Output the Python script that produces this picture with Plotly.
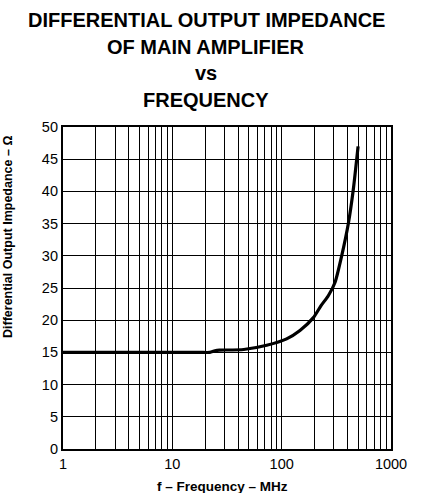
import plotly.graph_objects as go

# Differential output impedance of the main amplifier vs frequency
freq_mhz = [1, 5, 10, 18, 22, 25, 27, 45, 73, 111, 147, 195, 230, 267, 308, 354, 408, 452, 500]
impedance_ohm = [15, 15, 15, 15, 15, 15.3, 15.35, 15.45, 16.1, 17.1, 18.4, 20.4, 22.3, 23.8, 25.9, 30, 35.1, 40.3, 47]

decades = [1, 10, 100, 1000]
x_grid = [m * d for d in [1, 10, 100] for m in range(1, 10)] + [1000]
x_text = [str(v) if v in decades else "" for v in x_grid]
y_ticks = list(range(0, 55, 5))

font = "Liberation Sans, Arial, sans-serif"

fig = go.Figure()
fig.add_trace(go.Scatter(
    x=freq_mhz, y=impedance_ohm, mode="lines",
    line=dict(color="black", width=3.2, shape="spline", smoothing=0.6),
    showlegend=False,
))

fig.update_layout(
    width=422, height=493,
    margin=dict(l=63, r=31, t=127, b=44),
    paper_bgcolor="white", plot_bgcolor="white",
    font=dict(family=font, color="black", size=14),
    xaxis=dict(
        type="log", range=[0, 3],
        tickvals=x_grid, ticktext=x_text,
        showgrid=True, gridcolor="black", gridwidth=1.2,
        showline=True, linecolor="black", linewidth=2.2, mirror=True,
        ticks="", tickfont=dict(size=14.5, family=font),
        zeroline=False,
    ),
    yaxis=dict(
        range=[0, 50], tickvals=y_ticks,
        showgrid=True, gridcolor="black", gridwidth=1.2,
        showline=True, linecolor="black", linewidth=2.2, mirror=True,
        ticks="", tickfont=dict(size=14.5, family=font),
        zeroline=False,
    ),
)

title_lines = [
    ("DIFFERENTIAL OUTPUT IMPEDANCE", 20),
    ("OF MAIN AMPLIFIER", 47),
    ("vs", 73),
    ("FREQUENCY", 100),
]
for text, ypix in title_lines:
    fig.add_annotation(
        text=f"<b>{text}</b>", xref="paper", yref="paper",
        x=(206 - 63) / 328, y=(449 - ypix) / 322,
        xanchor="center", yanchor="middle", showarrow=False,
        font=dict(family=font, size=20, color="black"),
    )

fig.add_annotation(
    text="<b>f – Frequency – MHz</b>", xref="paper", yref="paper",
    x=(222 - 63) / 328, y=(449 - 486) / 322,
    xanchor="center", yanchor="middle", showarrow=False,
    font=dict(family=font, size=13.5, color="black"),
)
fig.add_annotation(
    text="<b>Differential Output Impedance – Ω</b>", xref="paper", yref="paper",
    x=(8 - 63) / 328, y=(449 - 237) / 322,
    xanchor="center", yanchor="middle", showarrow=False, textangle=-90,
    font=dict(family=font, size=12.5, color="black"),
)

fig.write_html("out.html")
